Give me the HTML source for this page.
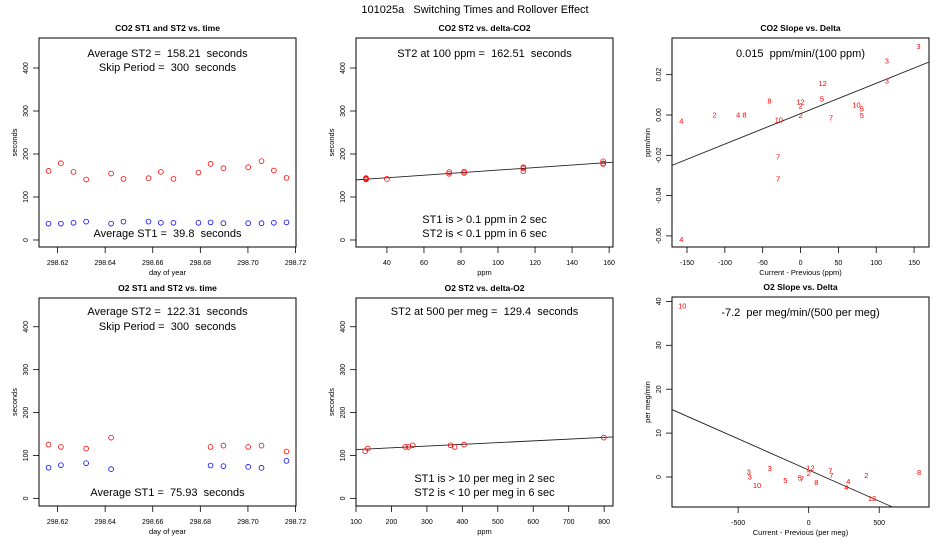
<!DOCTYPE html>
<html><head><meta charset="utf-8"><style>
html,body{margin:0;padding:0;background:#fff;}
svg{display:block;font-family:"Liberation Sans",sans-serif;}
text{white-space:pre;}
</style></head><body>
<svg id="chart" width="950" height="550" viewBox="0 0 950 550">
<text x="475" y="13" font-size="11" text-anchor="middle">101025a   Switching Times and Rollover Effect</text>
</svg>
<script>
// ---- data ----
const co2Days = [298.6162,298.6214,298.6267,298.632,298.6425,298.6477,298.6582,298.6634,298.6687,298.6792,298.6843,298.6897,298.7001,298.7057,298.7109,298.7162];
const co2ST2 = [160.8,178.6,158.4,140.6,154.6,142.1,143.7,158.4,142.1,156.9,177.1,167,169.3,183.3,161.6,144.5];
const co2ST1 = [38,38,40,42.7,38,42.7,42.7,40,40,40,41,39,39,39,40,41];
const o2Days = [298.6162,298.6214,298.632,298.6425,298.6843,298.6897,298.7001,298.7057,298.7162];
const o2ST2 = [125.3,119.9,116,141.5,119.9,123,119.9,123,109.1];
const o2ST1 = [71.6,77.4,82,68,76.6,75,73.5,71.2,87.4];
const co2Delta = [28.7,28.7,28.7,28.7,40,73.6,73.6,81.7,81.7,113.7,113.7,113.7,156.8,156.8,156.8];
const co2DeltaST2 = [141,143,142,144,142,154,158,156,159,160,167,169,178,183,177];
const co2FitLine = [132.9,0.2966];
const o2Delta = [126,133,239,248,260,367,378,405,799];
const o2DeltaST2 = [109.9,116,119.9,119.9,123.8,123.8,119.9,125.3,141.6];
const o2FitLine = [109.65,0.04055];
const co2SlopeLabels = ["3","3","3","12","5","8","12","2","10","5","5","2","2","4","8","10","7","4","7","7","4"];
const co2SlopeX = [155.7,114,114,29.2,28.3,-41,0,0,74,81,81,0,-113.6,-82.4,-74,-28.8,40.2,-157.4,-29.6,-29.6,-157.4];
const co2SlopeY = [0.034,0.0268,0.0169,0.0157,0.0079,0.0069,0.0064,0.0045,0.005,0.003,-0.0002,-0.0002,0,0,0,-0.0025,-0.0015,-0.0031,-0.0208,-0.0317,-0.0618];
const co2SlopeFit = [0.00066,0.0001509];
const o2SlopeLabels = ["10","3","3","3","10","5","5","7","12","2","8","7","7","4","4","2","12","8"];
const o2SlopeX = [-896,-425.5,-418.4,-276.6,-366.5,-165.5,-63.8,-47.3,11.8,0,54.4,153.7,160.8,281.4,267.2,409,449,782.6];
const o2SlopeY = [39,1.14,0,1.9,-1.97,-0.83,-0.23,-0.46,2.05,0.75,-1.21,1.37,0.3,-1.06,-2.35,0.3,-4.93,0.99];
const o2SlopeFit = [1.6,-0.0142];

const svg = document.getElementById('chart');
const NS = 'http://www.w3.org/2000/svg';
function mk(tag, attrs, parent){ const e=document.createElementNS(NS,tag); for(const k in attrs) e.setAttribute(k,attrs[k]); (parent||svg).appendChild(e); return e; }

function panel(c){
  const g = mk('g',{});
  
  
  const sx = v => c.box[0] + (v-c.xd[0])/(c.xd[1]-c.xd[0])*(c.box[2]-c.box[0]);
  const sy = v => c.box[3] - (v-c.yd[0])/(c.yd[1]-c.yd[0])*(c.box[3]-c.box[1]);
  const cx=(c.box[0]+c.box[2])/2, cy=(c.box[1]+c.box[3])/2;
  const t = mk('text',{x:cx,y:c.box[1]-7,'font-size':8.5,'font-weight':'bold','text-anchor':'middle'},g);
  t.textContent=c.title;
  
  
  const r = mk('rect',{x:c.box[0],y:c.box[1],width:c.box[2]-c.box[0],height:c.box[3]-c.box[1],fill:'none',stroke:'#000','stroke-width':1},g);
  
  
  c.xt.forEach((v,i)=>{
    const x=sx(v);
    mk('line',{x1:x,x2:x,y1:c.box[3],y2:c.box[3]+6,stroke:'#000','stroke-width':0.8},g);
    const l=mk('text',{x:x,y:c.box[3]+18,'font-size':7,'text-anchor':'middle'},g);
    l.textContent=c.xl[i];
    
    
  });
  c.yt.forEach((v,i)=>{
    const y=sy(v);
    mk('line',{x1:c.box[0]-6,x2:c.box[0],y1:y,y2:y,stroke:'#000','stroke-width':0.8},g);
    const l=mk('text',{x:c.box[0]-11,y:y,'font-size':7,'text-anchor':'middle',transform:`rotate(-90 ${c.box[0]-11} ${y})`},g);
    l.textContent=c.yl[i];
    
    
  });
  const xa=mk('text',{x:cx,y:c.box[3]+28,'font-size':7.5,'text-anchor':'middle'},g);
  xa.textContent=c.xlab;
  
  
  const ya=mk('text',{x:c.box[0]-22,y:cy,'font-size':7.5,'text-anchor':'middle',transform:`rotate(-90 ${c.box[0]-22} ${cy})`},g);
  ya.textContent=c.ylab;
  
  
  const clip='clip'+c.name;
  const cp=mk('clipPath',{id:clip},g); mk('rect',{x:c.box[0],y:c.box[1],width:c.box[2]-c.box[0],height:c.box[3]-c.box[1]},cp);
  const pg=mk('g',{'clip-path':`url(#${clip})`},g);
  if(c.fit){
    const ln=mk('line',{x1:sx(c.xd[0]),y1:sy(c.fit[0]+c.fit[1]*c.xd[0]),x2:sx(c.xd[1]),y2:sy(c.fit[0]+c.fit[1]*c.xd[1]),stroke:'#222','stroke-width':0.9},pg);
    
    
  }
  (c.series||[]).forEach(s=>{
    s.x.forEach((xv,i)=>{
      const p=mk('circle',{cx:sx(xv),cy:sy(s.y[i]),r:2.4,fill:'none',stroke:s.color,'stroke-width':0.8},pg);
      
      
    });
  });
  if(c.labels){
    c.labels.l.forEach((lab,i)=>{
      const p=mk('text',{x:sx(c.labels.x[i]),y:sy(c.labels.y[i])+2.5,'font-size':7.5,fill:'#f00','text-anchor':'middle'},pg);
      p.textContent=lab;
      
      
    });
  }
  (c.notes||[]).forEach(n=>{
    const p=mk('text',{x:cx,y:n[1],'font-size':11,'text-anchor':'middle'},g);
    p.textContent=n[0];
    
    
  });
}
const dayT=[298.62,298.64,298.66,298.68,298.70,298.72];
const dayL=['298.62','298.64','298.66','298.68','298.70','298.72'];
const secT=[0,100,200,300,400];
const secL=['0','100','200','300','400'];
panel({name:'co2-time-panel',title:'CO2 ST1 and ST2 vs. time',box:[39,38,296,247],xd:[298.6122,298.7202],yd:[-16.3,469.8],
  xt:dayT,xl:dayL,yt:secT,yl:secL,xlab:'day of year',ylab:'seconds',
  series:[{x:co2Days,y:co2ST2,color:'#f00',nm:'st2'},{x:co2Days,y:co2ST1,color:'#00f',nm:'st1'}],
  notes:[['Average ST2 =  158.21  seconds',57],['Skip Period =  300  seconds',71],['Average ST1 =  39.8  seconds',237]]});
panel({name:'co2-delta-panel',title:'CO2 ST2 vs. delta-CO2',box:[356,38,613,247],xd:[23.3,162.1],yd:[-16.3,469.8],
  xt:[40,60,80,100,120,140,160],xl:['40','60','80','100','120','140','160'],yt:secT,yl:secL,xlab:'ppm',ylab:'seconds',
  fit:co2FitLine,series:[{x:co2Delta,y:co2DeltaST2,color:'#f00',nm:'st2'}],
  notes:[['ST2 at 100 ppm =  162.51  seconds',57],['ST1 is > 0.1 ppm in 2 sec',223],['ST2 is < 0.1 ppm in 6 sec',237]]});
panel({name:'co2-slope-panel',title:'CO2 Slope vs. Delta',box:[672,38,929,247],xd:[-169.8,169.7],yd:[-0.0655,0.0382],
  xt:[-150,-100,-50,0,50,100,150],xl:['-150','-100','-50','0','50','100','150'],yt:[-0.06,-0.04,-0.02,0,0.02],yl:['-0.06','-0.04','-0.02','0.00','0.02'],
  xlab:'Current - Previous (ppm)',ylab:'ppm/min',fit:co2SlopeFit,labels:{l:co2SlopeLabels,x:co2SlopeX,y:co2SlopeY},
  notes:[['0.015  ppm/min/(100 ppm)',57]]});
panel({name:'o2-time-panel',title:'O2 ST1 and ST2 vs. time',box:[39,298,296,506],xd:[298.6122,298.7202],yd:[-17.8,467],
  xt:dayT,xl:dayL,yt:secT,yl:secL,xlab:'day of year',ylab:'seconds',
  series:[{x:o2Days,y:o2ST2,color:'#f00',nm:'st2'},{x:o2Days,y:o2ST1,color:'#00f',nm:'st1'}],
  notes:[['Average ST2 =  122.31  seconds',315],['Skip Period =  300  seconds',330],['Average ST1 =  75.93  seconds',496]]});
panel({name:'o2-delta-panel',title:'O2 ST2 vs. delta-O2',box:[356,298,613,506],xd:[100,825],yd:[-17.8,467],
  xt:[100,200,300,400,500,600,700,800],xl:['100','200','300','400','500','600','700','800'],yt:secT,yl:secL,xlab:'ppm',ylab:'seconds',
  fit:o2FitLine,series:[{x:o2Delta,y:o2DeltaST2,color:'#f00',nm:'st2'}],
  notes:[['ST2 at 500 per meg =  129.4  seconds',315],['ST1 is > 10 per meg in 2 sec',482],['ST2 is < 10 per meg in 6 sec',496]]});
panel({name:'o2-slope-panel',title:'O2 Slope vs. Delta',box:[672,297,929,507],xd:[-969,853],yd:[-6.83,41],
  xt:[-500,0,500],xl:['-500','0','500'],yt:[0,10,20,30,40],yl:['0','10','20','30','40'],
  xlab:'Current - Previous (per meg)',ylab:'per meg/min',fit:o2SlopeFit,labels:{l:o2SlopeLabels,x:o2SlopeX,y:o2SlopeY},
  notes:[['-7.2  per meg/min/(500 per meg)',316]]});
</script>
</body></html>
